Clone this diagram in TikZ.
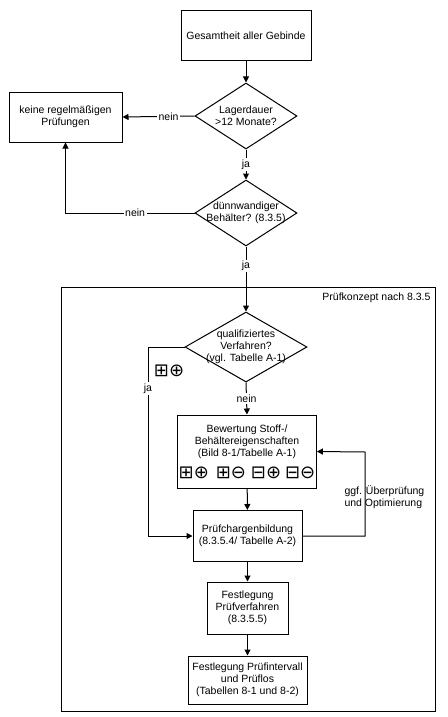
\documentclass[tikz,border=0pt]{standalone}
\usepackage{fontspec}
\setmainfont{Liberation Sans}
\newfontfamily\symfont{DejaVu Sans}
\usetikzlibrary{shapes.geometric,arrows.meta,positioning}

\tikzset{
  box/.style={draw, line width=1pt, align=center, inner sep=1pt},
  decision/.style={draw, diamond, line width=1pt, inner sep=0pt},
  dtext/.style={align=center, inner sep=0pt},
  lbl/.style={fill=white, inner sep=1.5pt},
  line/.style={line width=1pt, -{Triangle[length=6pt,width=6pt]}},
  sym/.style={font=\symfont\fontsize{18}{18}\selectfont, inner sep=0pt}
}

\begin{document}
\begin{tikzpicture}[x=1pt,y=-1pt,font=\fontsize{10.5}{12}\selectfont]
\useasboundingbox (0,0) rectangle (447,717);
% Rahmen Pruefkonzept
\draw [line width=1pt] (61,287) rectangle (435,711);
\node [anchor=north east] (konzept) at (434,289) {Prüfkonzept nach 8.3.5};

\node [box, minimum width=130pt, minimum height=50pt] (gesamt) at (246,36) {Gesamtheit aller Gebinde};
\node [decision, minimum width=102pt, minimum height=66pt,
  label={[dtext]center:Lagerdauer\\>12 Monate?}] (lager) at (246,116) {};
\node [box, minimum width=113pt, minimum height=50pt] (keine) at (65.5,117) {keine regelmäßigen\\Prüfungen};
\node [decision, minimum width=102pt, minimum height=66pt,
  label={[dtext]center:dünnwandiger\\Behälter? (8.3.5)}] (duenn) at (246,213) {};
\node [decision, minimum width=122pt, minimum height=70pt,
  label={[dtext]center:qualifiziertes\\Verfahren?\\(vgl. Tabelle A-1)}] (qual) at (246,347) {};
\node [sym] (symja) at (169,371) {⊞⊕};
\node [box, minimum width=136pt, minimum height=73pt] (bewert) at (247,451.5)
  {Bewertung Stoff-/\\Behältereigenschaften\\(Bild 8-1/Tabelle A-1)\\[7pt]
   {\symfont\fontsize{18}{18}\selectfont ⊞⊕\hspace{7pt}⊞⊖\hspace{5pt}⊟⊕\hspace{4pt}⊟⊖}};
\node [box, minimum width=109pt, minimum height=51pt] (charge) at (247.5,536) {Prüfchargenbildung\\(8.3.5.4/ Tabelle A-2)};
\node [box, minimum width=81pt, minimum height=52pt] (verf) at (247.5,608) {Festlegung\\Prüfverfahren\\(8.3.5.5)};
\node [box, minimum width=119pt, minimum height=48pt] (intervall) at (247.5,680) {Festlegung Prüfintervall\\und Prüflos\\(Tabellen 8-1 und 8-2)};
\node [anchor=west, align=left] (ggf) at (341,497) {ggf. Überprüfung\\und Optimierung};

\coordinate (jaknick) at (148,347);
\coordinate (rueck) at (365,452);

\draw [line] (gesamt) -- (lager);
\draw [line] (lager.west) -- (keine.east) node [lbl, pos=0.36] {nein};
\draw [line] (lager.south) -- (duenn.north) node [lbl, midway] {ja};
\draw [line] (duenn.west) -| (keine.south) node [lbl, pos=0.23] {nein};
\draw [line] (duenn.south) -- (qual.north) node [lbl, pos=0.3] {ja};
\draw [line] (qual.south) -- (bewert.north) node [lbl, midway] {nein};
\draw [line] (qual.west) -- (jaknick) |- (charge.west) node [lbl, pos=0.11] {ja};
\draw [line] (bewert) -- (charge);
\draw [line] (charge.east) -| (rueck) -- (bewert.east);
\draw [line] (charge) -- (verf);
\draw [line] (verf) -- (intervall);
\end{tikzpicture}
\end{document}
